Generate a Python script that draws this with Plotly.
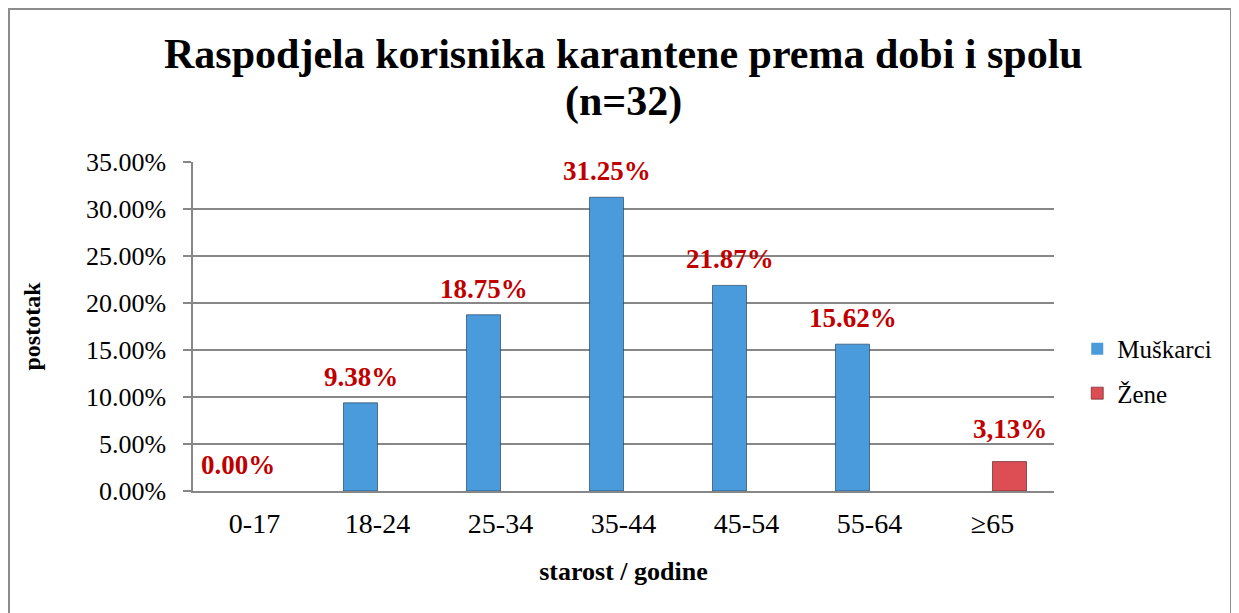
import plotly.graph_objects as go

categories = ["0-17", "18-24", "25-34", "35-44", "45-54", "55-64", "≥65"]
men_values = [0.0, 9.38, 18.75, 31.25, 21.87, 15.62, None]
women_values = [None, None, None, None, None, None, 3.13]
men_labels = ["0.00%", "9.38%", "18.75%", "31.25%", "21.87%", "15.62%", None]
women_labels = [None, None, None, None, None, None, "3,13%"]
y_ticks = [0, 5, 10, 15, 20, 25, 30, 35]
y_ticktext = ["0.00%", "5.00%", "10.00%", "15.00%", "20.00%", "25.00%", "30.00%", "35.00%"]
title_lines = ["Raspodjela korisnika karantene prema dobi i spolu", "(n=32)"]

SERIF = "Liberation Serif, Times New Roman, serif"
GRID = "#878787"

fig = go.Figure()
fig.add_trace(go.Bar(
    name="Muškarci", x=categories, y=men_values,
    marker=dict(color="#4A9BDB",
                line=dict(color="rgba(30,60,90,0.65)",
                          width=[0 if (v is None or v == 0) else 1 for v in men_values])),
    legendgroup="m",
))
fig.add_trace(go.Bar(
    name="Žene", x=categories, y=women_values,
    marker=dict(color="#DC4E54", line=dict(color="rgba(90,30,30,0.65)", width=1)),
    legendgroup="z",
))

annotations = []
for cat, v, lab in zip(categories, men_values, men_labels):
    if lab is not None:
        annotations.append(dict(x=cat, y=v, text=f"<b>{lab}</b>", showarrow=False,
                                xref="x", yref="y", yanchor="bottom", xshift=-17, yshift=9,
                                font=dict(family=SERIF, size=27, color="#C00000")))
for cat, v, lab in zip(categories, women_values, women_labels):
    if lab is not None:
        annotations.append(dict(x=cat, y=v, text=f"<b>{lab}</b>", showarrow=False,
                                xref="x", yref="y", yanchor="bottom", xshift=17, yshift=16,
                                font=dict(family=SERIF, size=27, color="#C00000")))

for line, ypos in zip(title_lines, [1.3283, 1.1839]):
    annotations.append(dict(
        text=f"<b>{line}</b>",
        xref="paper", yref="paper", x=0.5, y=ypos, xanchor="center", yanchor="middle",
        showarrow=False, font=dict(family=SERIF, size=42, color="black"),
    ))

fig.update_layout(
    width=1231, height=605,
    margin=dict(l=185, r=185, t=154, b=122),
    paper_bgcolor="white", plot_bgcolor="white",
    barmode="group", bargap=0.447, bargroupgap=0,
    font=dict(family=SERIF, color="black"),
    legend=dict(x=1.027, xanchor="left", y=0.365, yanchor="middle",
                font=dict(family=SERIF, size=25, color="black"),
                tracegroupgap=9, bgcolor="rgba(0,0,0,0)"),
    annotations=annotations,
    shapes=[dict(type="rect", xref="paper", yref="paper",
                 x0=-0.2137, x1=1.2056, y0=-0.45, y1=1.465,
                 line=dict(color="#8C8C8C", width=2), fillcolor="rgba(0,0,0,0)", layer="below")],
)
fig.update_xaxes(
    showline=True, linecolor=GRID, linewidth=1.5,
    ticks="", tickfont=dict(family=SERIF, size=28, color="black"),
    ticklabelstandoff=7,
    title=dict(text="<b>starost / godine</b>", font=dict(family=SERIF, size=26, color="black"), standoff=23),
)
fig.update_yaxes(
    range=[0, 35], tickvals=y_ticks, ticktext=y_ticktext,
    showgrid=True, gridcolor=GRID, gridwidth=1.5,
    showline=True, linecolor=GRID, linewidth=1.5,
    ticks="outside", ticklen=8, tickcolor=GRID, tickwidth=1.5,
    tickfont=dict(family=SERIF, size=26, color="black"),
    ticklabelstandoff=12, zeroline=False,
    title=dict(text="<b>postotak</b>", font=dict(family=SERIF, size=24, color="black"), standoff=38),
)

fig.write_html("out.html")
